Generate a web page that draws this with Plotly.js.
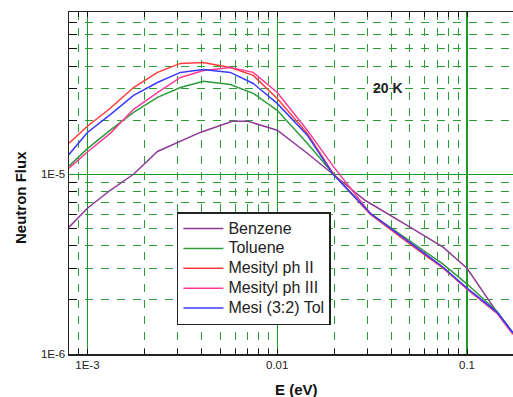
<!DOCTYPE html>
<html>
<head>
<meta charset="utf-8">
<script src="https://cdn.plot.ly/plotly-3.0.1.min.js"></script>
<style>html,body{margin:0;padding:0;background:#fff;}#chart{width:513px;height:397px;}</style>
</head>
<body>
<div id="chart"></div>
<script>
// Energy grid (eV)
const energy = [0.0008, 0.001, 0.00132, 0.00175, 0.00234, 0.00309, 0.00408, 0.00566, 0.00748, 0.01, 0.0144, 0.0197, 0.0309, 0.0501, 0.0748, 0.1, 0.1438, 0.1747];
const energyBenzene = [0.0008, 0.001, 0.00132, 0.00175, 0.00234, 0.00393, 0.0058, 0.00704, 0.01, 0.0144, 0.0197, 0.029, 0.0501, 0.0748, 0.1, 0.1438, 0.1747];

const seriesNames = ["Benzene", "Toluene", "Mesityl ph II", "Mesityl ph III", "Mesi (3:2) Tol"];

const benzene   = [5.08e-6, 6.47e-6, 8.15e-6, 1.0e-5, 1.34e-5, 1.71e-5, 1.97e-5, 1.97e-5, 1.76e-5, 1.31e-5, 1.0e-5, 7.17e-6, 5.08e-6, 3.93e-6, 3.0e-6, 1.71e-6, 1.31e-6];
const toluene   = [1.11e-5, 1.39e-5, 1.76e-5, 2.21e-5, 2.68e-5, 3.04e-5, 3.29e-5, 3.16e-5, 2.82e-5, 2.27e-5, 1.49e-5, 1.01e-5, 6.07e-6, 4.24e-6, 3.16e-6, 2.45e-6, 1.73e-6, 1.31e-6];
const mesitylII = [1.49e-5, 1.85e-5, 2.33e-5, 3.04e-5, 3.69e-5, 4.14e-5, 4.19e-5, 3.93e-5, 3.55e-5, 2.64e-5, 1.69e-5, 1.01e-5, 6.0e-6, 4.08e-6, 3.0e-6, 2.30e-6, 1.69e-6, 1.29e-6];
const mesitylIII= [1.08e-5, 1.33e-5, 1.69e-5, 2.30e-5, 2.85e-5, 3.46e-5, 3.78e-5, 3.93e-5, 3.69e-5, 2.85e-5, 1.76e-5, 1.11e-5, 6.07e-6, 4.14e-6, 3.04e-6, 2.30e-6, 1.69e-6, 1.29e-6];
const mesiTol   = [1.29e-5, 1.71e-5, 2.15e-5, 2.75e-5, 3.24e-5, 3.69e-5, 3.83e-5, 3.69e-5, 3.20e-5, 2.48e-5, 1.65e-5, 1.0e-5, 6.07e-6, 4.14e-6, 3.04e-6, 2.33e-6, 1.71e-6, 1.31e-6];

const xTickVals = [0.001, 0.01, 0.1];
const xTickText = ["1E-3", "0.01", "0.1"];
const xMinorVals = [0.0009, 0.002, 0.003, 0.004, 0.005, 0.006, 0.007, 0.008, 0.009,
                    0.02, 0.03, 0.04, 0.05, 0.06, 0.07, 0.08, 0.09];
const yTickVals = [1e-6, 1e-5];
const yTickText = ["1E-6", "1E-5"];
const yMinorVals = [2e-6, 3e-6, 4e-6, 5e-6, 6e-6, 7e-6, 8e-6, 9e-6,
                    2e-5, 3e-5, 4e-5, 5e-5, 6e-5, 7e-5];

const colors = ["#8e3a96", "#2f9a3a", "#ff3b3b", "#ff3a96", "#3a3aff"];
const xs = [energyBenzene, energy, energy, energy, energy];
const ys = [benzene, toluene, mesitylII, mesitylIII, mesiTol];

const traces = seriesNames.map((n, i) => ({
  x: xs[i], y: ys[i], name: '<span style="font-size:16px">' + n + '</span>',
  type: 'scatter', mode: 'lines',
  line: {color: colors[i], width: 1.5}
}));

const FONT = 'Liberation Sans, Arial, Helvetica, sans-serif';
const GREEN = '#1c9a28';
const GREEN_D = '#2aa236';

const layout = {
  width: 513, height: 397,
  margin: {l: 69, r: 0, t: 12, b: 43},
  paper_bgcolor: '#fff', plot_bgcolor: '#fff',
  font: {family: FONT, color: '#111', size: 12},
  showlegend: true,
  legend: {
    x: 0.243, y: 0.415, xanchor: 'left', yanchor: 'top',
    bgcolor: '#fff', bordercolor: '#222', borderwidth: 1.5,
    font: {family: FONT, size: 13, color: '#222'},
    itemwidth: 40,
    tracegroupgap: 0
  },
  xaxis: {
    type: 'log',
    range: [Math.log10(0.0008), Math.log10(0.1747)],
    tickmode: 'array', tickvals: xTickVals, ticktext: xTickText,
    ticks: 'inside', ticklen: 5, tickcolor: '#111', tickwidth: 1,
    showline: true, linecolor: '#222', linewidth: 1.5, mirror: 'allticks',
    showgrid: true, gridcolor: GREEN, gridwidth: 1.4,
    zeroline: false,
    tickfont: {family: FONT, size: 11.5, color: '#222'},
    minor: {tickmode: 'array', tickvals: xMinorVals, showgrid: true, gridcolor: GREEN_D, gridwidth: 1, griddash: '8px,8px',
            ticks: 'inside', ticklen: 5, tickcolor: '#111', tickwidth: 1}
  },
  yaxis: {
    type: 'log',
    range: [-6, Math.log10(8e-5)],
    tickmode: 'array', tickvals: yTickVals, ticktext: yTickText,
    ticks: '',
    showline: true, linecolor: '#222', linewidth: 1.5, mirror: false,
    showgrid: true, gridcolor: GREEN, gridwidth: 1,
    zeroline: false,
    tickfont: {family: FONT, size: 11.5, color: '#222'},
    minor: {tickmode: 'array', tickvals: yMinorVals, showgrid: true, gridcolor: GREEN_D, gridwidth: 1, griddash: '8px,8px',
            ticks: 'inside', ticklen: 8, tickcolor: '#111', tickwidth: 1}
  },
  annotations: [
    {text: '<b>20 K</b>', xref: 'x', yref: 'y', x: Math.log10(0.0384), y: Math.log10(3.04e-5),
     xanchor: 'center', yanchor: 'middle',
     showarrow: false, font: {family: FONT, size: 14, color: '#222'}},
    {text: '<b>Neutron Flux</b>', xref: 'paper', yref: 'paper', x: (20 - 69) / 444, y: (354 - 198) / 342,
     xanchor: 'center', yanchor: 'middle',
     textangle: -90, showarrow: false, font: {family: FONT, size: 15, color: '#111'}},
    {text: '<b>E (eV)</b>', xref: 'paper', yref: 'paper', x: (296 - 69) / 444, y: (354 - 389) / 342,
     xanchor: 'center', yanchor: 'middle',
     showarrow: false, font: {family: FONT, size: 15, color: '#111'}}
  ]
};

Plotly.newPlot('chart', traces, layout, {staticPlot: true, displayModeBar: false});
</script>
</body>
</html>
